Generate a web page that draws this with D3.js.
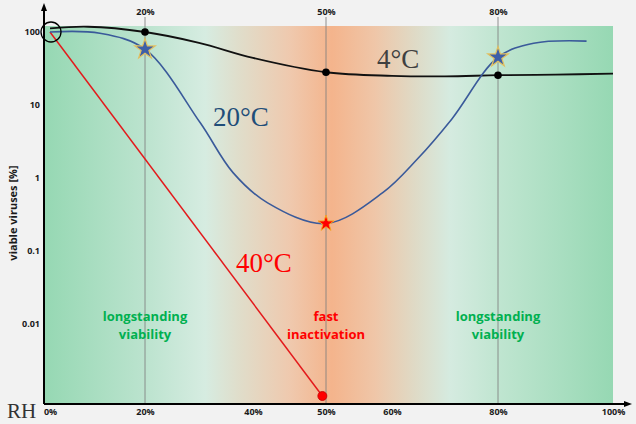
<!DOCTYPE html>
<html>
<head>
<meta charset="utf-8">
<script src="https://cdn.jsdelivr.net/npm/d3@7"></script>
<style>
  html, body { margin: 0; padding: 0; background: #f2f2f2; }
  svg { display: block; }
</style>
</head>
<body>
<div id="viz"></div>
<script>
// Schematic: virus viability vs relative humidity at three temperatures.
// The RH axis in the source is not linear, so the x scale is piecewise.
const rhTicks = [0, 20, 40, 50, 60, 80, 100];
const rhMarks = [20, 50, 80];
const yTicks = [100, 10, 1, 0.1, 0.01];

// [RH %, viable viruses %]
const temp4 = [[0, 112], [8, 118], [20, 100], [30, 71], [40, 44], [50, 28], [60, 25], [70, 24.6], [80, 25.5], [90, 26], [100, 26.8]];
const temp20 = [[0, 100], [10.5, 96], [20, 58], [30.2, 5.7], [36.3, 1.17], [42, 0.45], [50, 0.234],
  [58.6, 0.62], [64.7, 1.77], [71.3, 6.4], [80, 45], [86.2, 70], [95.4, 75]];
const temp40 = [[0, 100], [49.5, 0.001]];

const dots4 = [[20, 100], [50, 28], [80, 25.5]];
const stars20 = [[20, 58], [80, 45]];
const starMin20 = [[50, 0.234]];
const dot40 = [[49.5, 0.001]];

const zones = [
  { rh: 20, lines: ["longstanding", "viability"], color: "#00b050" },
  { rh: 50, lines: ["fast", "inactivation"], color: "#ff0000" },
  { rh: 80, lines: ["longstanding", "viability"], color: "#00b050" }
];

const W = 636, H = 424;
const plotLeft = 45, plotRight = 613, plotTop = 26, plotBottom = 404;

const x = d3.scaleLinear()
  .domain(rhTicks)
  .range([50, 145, 253, 326, 392, 498, 613]);

const y = d3.scaleLog()
  .domain([0.001, 100])
  .range([396, 32]);

const svg = d3.select("#viz").append("svg")
  .attr("width", W)
  .attr("height", H);

// Background band: green (stable) -> orange (fast inactivation) -> green.
const grad = svg.append("defs").append("linearGradient")
  .attr("id", "bg")
  .attr("gradientUnits", "userSpaceOnUse")
  .attr("x1", plotLeft).attr("x2", plotRight)
  .attr("y1", 0).attr("y2", 0);

[[0, "#96d8b3"], [0.174, "#bbe3ce"], [0.282, "#d6ece1"], [0.343, "#e0ddca"], [0.431, "#efc9ae"],
 [0.505, "#f4b48c"], [0.581, "#efc6a8"], [0.651, "#dfdac6"], [0.713, "#d5ebe0"], [0.801, "#bfe5d0"], [1, "#96d8b3"]]
  .forEach(([o, c]) => grad.append("stop").attr("offset", o).attr("stop-color", c));

svg.append("rect")
  .attr("x", plotLeft)
  .attr("y", plotTop)
  .attr("width", plotRight - plotLeft)
  .attr("height", plotBottom - plotTop)
  .attr("fill", "url(#bg)");

// Reference lines at 20 / 50 / 80 % RH
svg.append("g")
  .selectAll("line")
  .data(rhMarks)
  .join("line")
  .attr("x1", d => x(d))
  .attr("x2", d => x(d))
  .attr("y1", 17)
  .attr("y2", plotBottom)
  .attr("stroke", "#808080")
  .attr("stroke-opacity", 0.85)
  .attr("stroke-width", 1);

const tickFont = "'Open Sans', 'Noto Sans', sans-serif";

// Top labels
const topAxis = svg.append("g")
  .attr("transform", "translate(0,17)")
  .call(d3.axisTop(x).tickValues(rhMarks).tickSize(0).tickPadding(2).tickFormat(d => d + "%"));
topAxis.select(".domain").remove();

// Bottom labels
const bottomAxis = svg.append("g")
  .attr("transform", `translate(0,${plotBottom})`)
  .call(d3.axisBottom(x).tickValues(rhTicks).tickSize(0).tickPadding(5).tickFormat(d => d + "%"));
bottomAxis.select(".domain").remove();

// Y labels
const leftAxis = svg.append("g")
  .attr("transform", `translate(${plotLeft - 1},0)`)
  .call(d3.axisLeft(y).tickValues(yTicks).tickSize(0).tickPadding(4).tickFormat(d => String(d)));
leftAxis.select(".domain").remove();

svg.selectAll(".tick text")
  .attr("font-family", tickFont)
  .attr("font-weight", "bold")
  .attr("font-size", 9)
  .attr("fill", "#1a1a1a");

// Axis lines with arrow heads
svg.append("line")
  .attr("x1", plotLeft - 1).attr("x2", plotLeft - 1)
  .attr("y1", 8).attr("y2", plotBottom)
  .attr("stroke", "#000").attr("stroke-width", 2);
svg.append("path")
  .attr("d", `M${plotLeft - 1},3 L${plotLeft - 4},11 L${plotLeft + 2},11 Z`)
  .attr("fill", "#000");
svg.append("line")
  .attr("x1", plotLeft - 1).attr("x2", 627)
  .attr("y1", plotBottom).attr("y2", plotBottom)
  .attr("stroke", "#000").attr("stroke-width", 2);
svg.append("path")
  .attr("d", `M632,${plotBottom} L624,${plotBottom - 3} L624,${plotBottom + 3} Z`)
  .attr("fill", "#000");

// Zone captions
zones.forEach(z => {
  const t = svg.append("text")
    .attr("text-anchor", "middle")
    .attr("font-family", tickFont)
    .attr("font-weight", "bold")
    .attr("font-size", 13)
    .attr("fill", z.color);
  z.lines.forEach((l, i) => {
    t.append("tspan").attr("x", x(z.rh)).attr("y", 321 + i * 18).text(l);
  });
});

const line = d3.line()
  .x(d => x(d[0]))
  .y(d => y(d[1]))
  .curve(d3.curveCatmullRom.alpha(0.5));

svg.append("path")
  .datum(temp40)
  .attr("d", d3.line().x(d => x(d[0])).y(d => y(d[1])))
  .attr("fill", "none")
  .attr("stroke", "#e31a1c")
  .attr("stroke-width", 1.5);

svg.append("path")
  .datum(temp4)
  .attr("d", line)
  .attr("fill", "none")
  .attr("stroke", "#111")
  .attr("stroke-width", 1.8);

svg.append("path")
  .datum(temp20)
  .attr("d", line)
  .attr("fill", "none")
  .attr("stroke", "#3a5a9a")
  .attr("stroke-width", 1.6);

// Markers
svg.append("g")
  .selectAll("circle")
  .data(dots4)
  .join("circle")
  .attr("cx", d => x(d[0]))
  .attr("cy", d => y(d[1]))
  .attr("r", 3.8)
  .attr("fill", "#000");

svg.append("g")
  .selectAll("circle")
  .data(dot40)
  .join("circle")
  .attr("cx", d => x(d[0]))
  .attr("cy", d => y(d[1]))
  .attr("r", 4.5)
  .attr("fill", "#ff0000")
  .attr("stroke", "#c00000")
  .attr("stroke-width", 0.8);

svg.append("g")
  .selectAll("path")
  .data(stars20)
  .join("path")
  .attr("transform", d => `translate(${x(d[0])},${y(d[1])})`)
  .attr("d", d3.symbol(d3.symbolStar).size(130))
  .attr("fill", "#3d5fa8")
  .attr("stroke", "#e2c060")
  .attr("stroke-width", 1.2);

svg.append("g")
  .selectAll("path")
  .data(starMin20)
  .join("path")
  .attr("transform", d => `translate(${x(d[0])},${y(d[1])})`)
  .attr("d", d3.symbol(d3.symbolStar).size(80))
  .attr("fill", "#ff0000")
  .attr("stroke", "#f5a623")
  .attr("stroke-width", 1);

// Start-point circle
svg.append("circle")
  .attr("cx", x(0) + 1)
  .attr("cy", y(100))
  .attr("r", 10)
  .attr("fill", "none")
  .attr("stroke", "#000")
  .attr("stroke-width", 1.3);

// Temperature labels
const serif = "'Liberation Serif', 'DejaVu Serif', serif";
[
  { text: "4°C", x: 377, y: 68, color: "#404040" },
  { text: "20°C", x: 213, y: 126, color: "#1f4e79" },
  { text: "40°C", x: 236, y: 272, color: "#ff0000" }
].forEach(d => {
  svg.append("text")
    .attr("x", d.x)
    .attr("y", d.y)
    .attr("font-family", serif)
    .attr("font-size", 27)
    .attr("fill", d.color)
    .text(d.text);
});

svg.append("text")
  .attr("x", 7)
  .attr("y", 418)
  .attr("font-family", serif)
  .attr("font-size", 21)
  .attr("fill", "#333")
  .text("RH");

svg.append("text")
  .attr("transform", "translate(17,213) rotate(-90)")
  .attr("text-anchor", "middle")
  .attr("font-family", tickFont)
  .attr("font-weight", "bold")
  .attr("font-size", 11)
  .attr("fill", "#1a1a1a")
  .text("viable viruses [%]");
</script>
</body>
</html>
